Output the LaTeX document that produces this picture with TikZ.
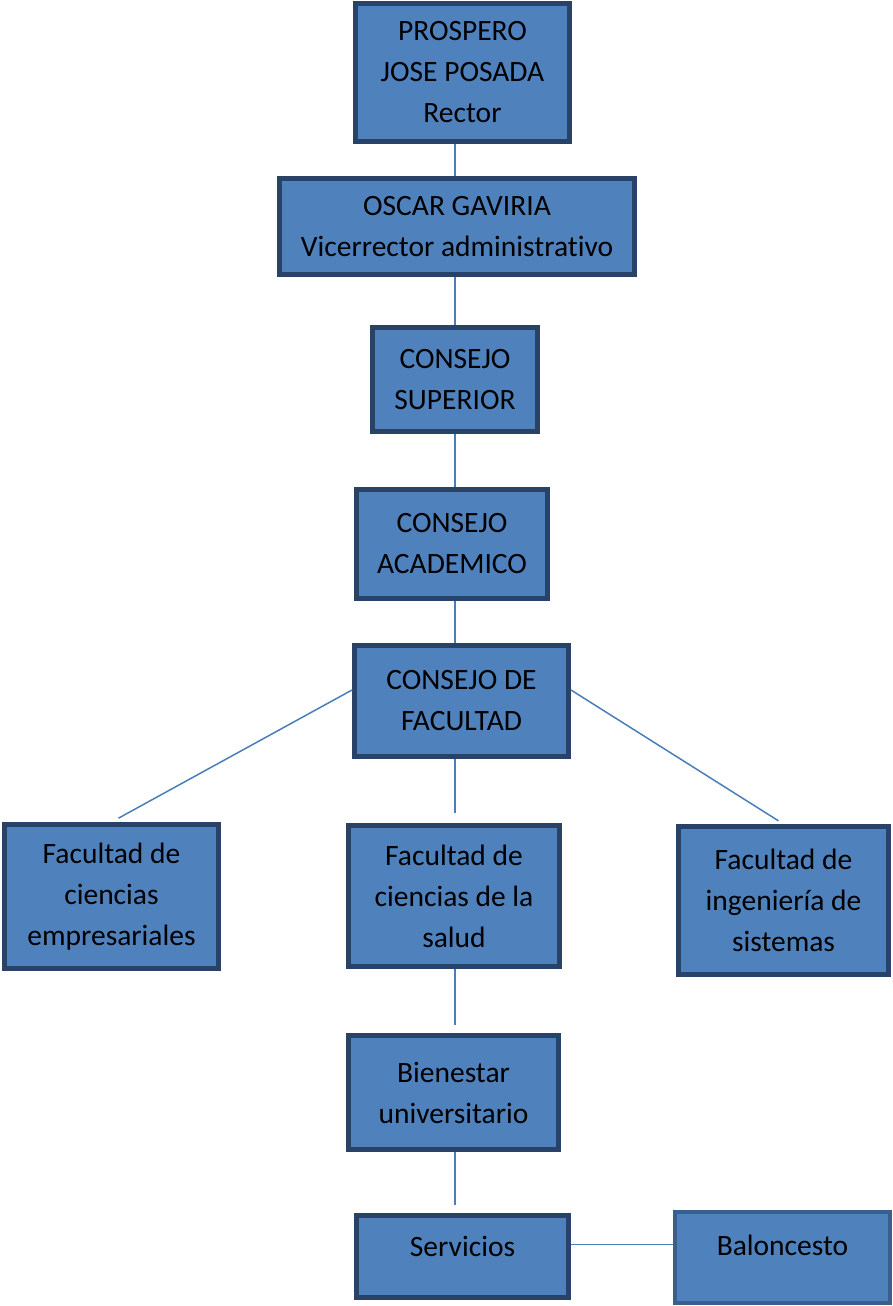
\documentclass[tikz,border=0pt]{standalone}
\usepackage{fontspec}
\setmainfont{Carlito}[Ligatures={NoCommon}]
\definecolor{boxblue}{HTML}{4F81BD}
\definecolor{boxline}{HTML}{284367}
\definecolor{boxlight}{HTML}{3A5F8E}
\definecolor{linkblue}{HTML}{4A7EBB}

\begin{document}
\begin{tikzpicture}[x=1pt,y=-1pt]
\tikzstyle{cargo}=[rectangle, draw=boxline, line width=5pt, fill=boxblue, align=center, inner sep=0pt, font=\fontsize{29.5}{41}\selectfont]
\tikzstyle{link}=[draw=linkblue, line width=1.5pt]

\useasboundingbox (0,0) rectangle (893,1306);

\node[cargo, minimum width=214, minimum height=138] (rector) at (462.5,72.5) {PROSPERO\\JOSE POSADA\\Rector};
\node[cargo, minimum width=355, minimum height=96] (vice) at (457,226.5) {OSCAR GAVIRIA\\Vicerrector administrativo};
\node[cargo, minimum width=165, minimum height=104] (superior) at (455,379.5) {CONSEJO\\SUPERIOR};
\node[cargo, minimum width=191, minimum height=109] (academico) at (452,544) {CONSEJO\\ACADEMICO};
\node[cargo, minimum width=214, minimum height=111] (facultad) at (461.5,701) {CONSEJO DE\\FACULTAD};

\node[cargo, minimum width=214, minimum height=144] (empresa) at (111.5,896.5) {Facultad de\\ciencias\\empresariales};
\node[cargo, minimum width=211, minimum height=141] (salud) at (454,896) {Facultad de\\ciencias de la\\salud};
\node[cargo, minimum width=210, minimum height=148] (sistemas) at (783.5,900.5) {Facultad de\\ingenier\'ia de\\sistemas};

\node[cargo, minimum width=210, minimum height=114] (bienestar) at (453.5,1092.5) {Bienestar\\universitario};
\node[cargo, minimum width=212, minimum height=82, text depth=20pt] (servicios) at (462.5,1256.5) {Servicios};
\node[cargo, draw=boxlight, line width=4pt, minimum width=215, minimum height=91, text depth=24pt] (baloncesto) at (782.5,1257.5) {Baloncesto};

\coordinate (eje) at (455,0);
\draw[link] (eje |- rector.south) -- (eje |- vice.north);
\draw[link] (eje |- vice.south) -- (eje |- superior.north);
\draw[link] (eje |- superior.south) -- (eje |- academico.north);
\draw[link] (eje |- academico.south) -- (eje |- facultad.north);
\draw[link, shorten >=10pt] (eje |- facultad.south) -- (eje |- salud.north);
\draw[link, shorten >=8pt] ([yshift=11pt]facultad.west) -- (empresa.north);
\draw[link, shorten >=6pt] ([yshift=11pt]facultad.east) -- (sistemas.north);
\draw[link, shorten >=8pt] (eje |- salud.south) -- (eje |- bienestar.north);
\draw[link, shorten >=8pt] (eje |- bienestar.south) -- (eje |- servicios.north);
\draw[link] ([yshift=12pt]servicios.east) -- ([yshift=12pt]servicios.east -| baloncesto.west);

\end{tikzpicture}
\end{document}
